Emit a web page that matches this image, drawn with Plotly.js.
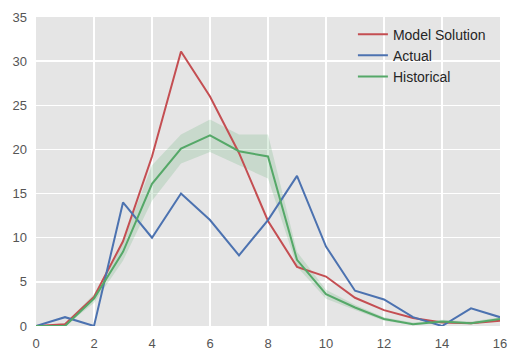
<!DOCTYPE html>
<html>
<head>
<meta charset="utf-8">
<script src="https://cdn.plot.ly/plotly-3.0.1.min.js"></script>
<style>html,body{margin:0;padding:0;background:#fff;}#chart{width:517px;height:360px;}</style>
</head>
<body>
<div id="chart"></div>
<script>
const xs = [0,1,2,3,4,5,6,7,8,9,10,11,12,13,14,15,16];
const modelSolution = [0,0.2,3.3,9.6,19.2,31.1,26.0,19.6,11.9,6.7,5.6,3.2,1.8,0.9,0.4,0.3,0.6];
const actual = [0,1,0,14,10,15,12,8,12,17,9,4,3,1,0,2,1];
const historical = [0,0,3.1,8.4,16.1,20.1,21.6,19.8,19.2,7.5,3.6,2.1,0.8,0.2,0.5,0.3,0.8];
const historicalLow = [0,0,2.6,7.4,14.2,18.4,19.7,18.2,16.7,6.7,3.1,1.8,0.6,0.1,0.3,0.2,0.6];
const historicalHigh = [0,0.3,3.6,9.6,18.2,21.7,23.4,21.7,21.7,8.4,4.1,2.4,1.0,0.4,0.7,0.5,1.0];
const xTicks = [0,2,4,6,8,10,12,14,16];
const yTicks = [0,5,10,15,20,25,30,35];

const red = '#C44E52', blue = '#4C72B0', green = '#55A868';
const traces = [
  {x: xs, y: historicalLow, mode: 'lines', line: {width: 0, color: green}, showlegend: false, hoverinfo: 'skip'},
  {x: xs, y: historicalHigh, mode: 'lines', line: {width: 0, color: green}, fill: 'tonexty', fillcolor: 'rgba(85,168,104,0.2)', showlegend: false, hoverinfo: 'skip'},
  {x: xs, y: modelSolution, mode: 'lines', name: 'Model Solution', line: {color: red, width: 2}},
  {x: xs, y: actual, mode: 'lines', name: 'Actual', line: {color: blue, width: 2}},
  {x: xs, y: historical, mode: 'lines', name: 'Historical', line: {color: green, width: 2}}
];
const layout = {
  width: 517, height: 360,
  margin: {l: 36, r: 17, t: 17, b: 34},
  paper_bgcolor: '#ffffff',
  plot_bgcolor: '#E5E5E5',
  font: {family: 'Liberation Sans, Arial, sans-serif', size: 13, color: '#555555'},
  xaxis: {range: [0, 16], tickvals: xTicks, ticktext: xTicks.map(String), showgrid: true, gridcolor: '#ffffff', gridwidth: 1.3, zeroline: false, showline: false, ticks: '', ticklabelstandoff: 8, fixedrange: true},
  yaxis: {range: [0, 35], tickvals: yTicks, ticktext: yTicks.map(String), showgrid: true, gridcolor: '#ffffff', gridwidth: 1.3, zeroline: false, showline: false, ticks: '', ticklabelstandoff: 8, fixedrange: true},
  legend: {x: 0.683, y: 0.995, xanchor: 'left', yanchor: 'top', traceorder: 'normal', bgcolor: 'rgba(0,0,0,0)', font: {size: 14, color: '#262626'}, itemwidth: 30},
  showlegend: true
};
Plotly.newPlot('chart', traces, layout, {displayModeBar: false, staticPlot: true});
</script>
</body>
</html>
